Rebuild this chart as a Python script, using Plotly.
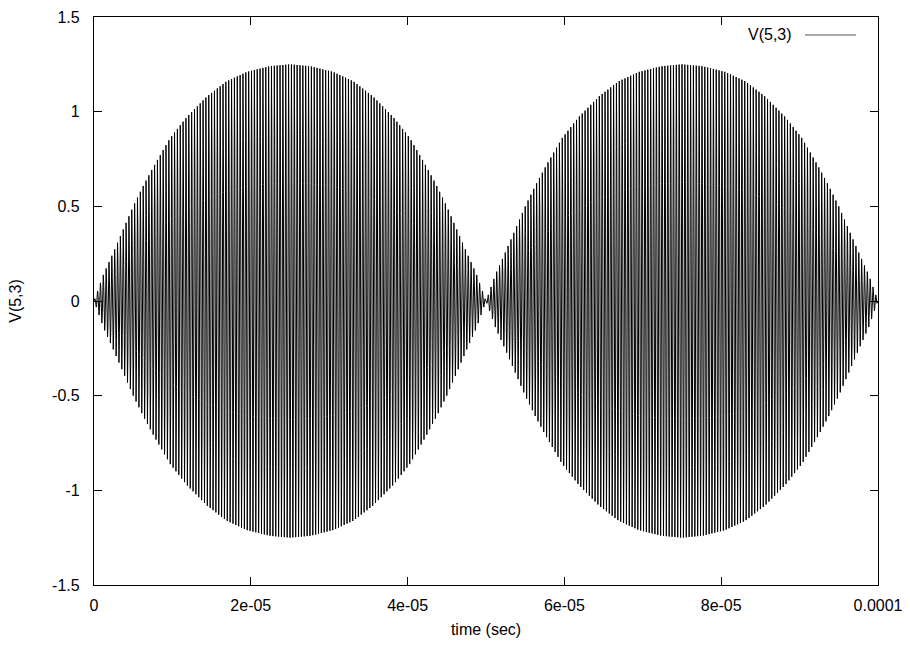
import numpy as np
import plotly.graph_objects as go

# Envelope of V(5,3) (time in seconds, peak volts)
env_t_us = [0, 1.2, 2.5, 3.75, 5, 6.3, 7.6, 9.7, 11.8, 14.4, 16.9, 19.5, 22.4, 25,
            27.6, 30.5, 33.1, 35.6, 38.2, 40.3, 42.4, 43.7, 45, 46.25, 47.5, 48.8, 50,
            51.2, 52.5, 53.75, 55, 56.3, 57.6, 59.7, 61.8, 64.4, 66.9, 69.5, 72.4, 75,
            77.6, 80.5, 83.1, 85.6, 88.2, 90.3, 92.4, 93.7, 95, 96.25, 97.5, 98.8, 100]
env_v = [0, 0.14, 0.26, 0.38, 0.50, 0.61, 0.71, 0.86, 0.97, 1.08, 1.16, 1.21, 1.24, 1.25,
         1.24, 1.21, 1.16, 1.08, 0.97, 0.86, 0.71, 0.61, 0.50, 0.38, 0.26, 0.14, 0,
         0.14, 0.26, 0.38, 0.50, 0.61, 0.71, 0.86, 0.97, 1.08, 1.16, 1.21, 1.24, 1.25,
         1.24, 1.21, 1.16, 1.08, 0.97, 0.86, 0.71, 0.61, 0.50, 0.38, 0.26, 0.14, 0]
carrier_cycles = [275]          # oscillations counted across the 0..1e-4 s window
t_end = [1e-4]

x_tickvals = [0, 2e-5, 4e-5, 6e-5, 8e-5, 1e-4]
x_ticktext = ["0", "2e-05", "4e-05", "6e-05", "8e-05", "0.0001"]
y_tickvals = [-1.5, -1, -0.5, 0, 0.5, 1, 1.5]
y_ticktext = ["-1.5", "-1", "-0.5", "0", "0.5", "1", "1.5"]

series_name = "V(5,3)"

env_t = np.array(env_t_us) * 1e-6
n = carrier_cycles[0] * 24
t = np.linspace(0, t_end[0], n + 1)
v = np.interp(t, env_t, env_v) * np.sin(2 * np.pi * carrier_cycles[0] / t_end[0] * t)

font = dict(family="Liberation Sans, Arial, Helvetica, sans-serif", size=16, color="black")

fig = go.Figure()
fig.add_trace(go.Scatter(x=t, y=v, mode="lines", name=series_name,
                         line=dict(color="black", width=1), showlegend=False,
                         hoverinfo="skip"))

axis_common = dict(showgrid=False, zeroline=False, showline=True, linecolor="black",
                   linewidth=1.2, mirror="allticks", ticks="inside", ticklen=8,
                   tickcolor="black", tickwidth=1, tickfont=font, automargin=False)

fig.update_layout(
    width=910, height=646,
    margin=dict(l=94, r=32, t=17, b=61),
    paper_bgcolor="white", plot_bgcolor="white",
    font=font,
    xaxis=dict(range=[0, 1e-4], tickvals=x_tickvals, ticktext=x_ticktext,
               ticklabelstandoff=6,
               title=dict(text="time (sec)", font=font, standoff=10), **axis_common),
    yaxis=dict(range=[-1.5, 1.5], tickvals=y_tickvals, ticktext=y_ticktext,
               ticklabelstandoff=10,
               title=dict(text="V(5,3)", font=font, standoff=26), **axis_common),
)

# legend key in gnuplot style: text then line sample
fig.add_annotation(xref="paper", yref="paper", x=(794 - 94) / 784, y=(585 - 35) / 568,
                   text=series_name, showarrow=False, xanchor="right", yanchor="middle",
                   font=font)
fig.add_shape(type="line", xref="paper", yref="paper",
              x0=(805 - 94) / 784, x1=(856 - 94) / 784,
              y0=(585 - 35) / 568, y1=(585 - 35) / 568,
              line=dict(color="#555555", width=1))

fig.write_html("out.html")
